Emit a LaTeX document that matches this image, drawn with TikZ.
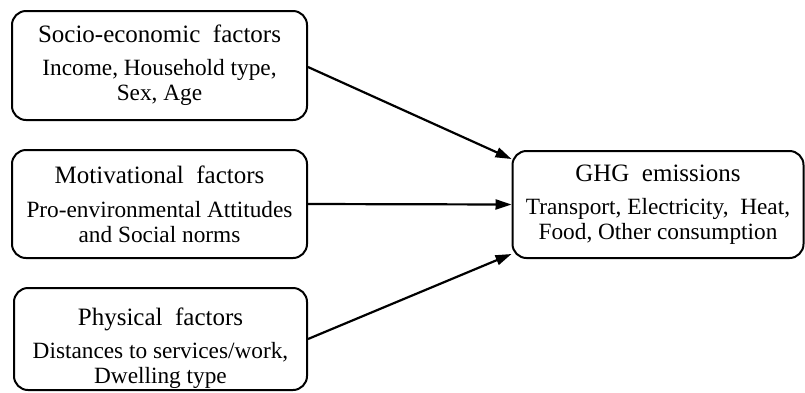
\documentclass[tikz,border=0pt]{standalone}
\usepackage{fontspec}
\setmainfont{Liberation Serif}
\usetikzlibrary{arrows.meta,calc}
\begin{document}
\begin{tikzpicture}[x=1pt,y=-1pt,
  box/.style={draw, line width=2pt, rounded corners=14pt, inner sep=0pt, align=center,
    font=\fontsize{23.3}{25}\selectfont},
  arr/.style={line width=2.2pt, -{Triangle[length=16pt,width=10pt]}}
]
\useasboundingbox (0,0) rectangle (805,392);
\node[box, minimum width=295pt, minimum height=109pt] (soc) at (159.5,65.5)
  {{\fontsize{25}{25}\selectfont Socio-economic~~factors}\\[8pt] Income, Household type,\\ Sex, Age};
\node[box, minimum width=295pt, minimum height=108pt] (mot) at (159.5,204)
  {{\fontsize{25}{25}\selectfont Motivational~~factors}\\[9pt] Pro-environmental Attitudes\\ and Social norms};
\node[box, minimum width=293pt, minimum height=102pt] (phy) at (160.5,339)
  {{\fontsize{25}{25}\selectfont\rule{0pt}{36pt}Physical~~factors}\\[8pt] Distances to services/work,\\ Dwelling type};
\node[box, minimum width=291pt, minimum height=107pt] (ghg) at (658,204.5)
  {{\fontsize{25}{25}\selectfont GHG~~emissions}\\[8pt] Transport, Electricity,~~Heat,\\ Food, Other consumption};
\draw[arr] ($(soc.east)+(0,1.5)$) -- ($(ghg.north west)+(0,9)$);
\draw[arr] (mot.east) -- (ghg.west);
\draw[arr] (phy.east) -- ($(ghg.south west)+(0,-5)$);
\end{tikzpicture}
\end{document}
